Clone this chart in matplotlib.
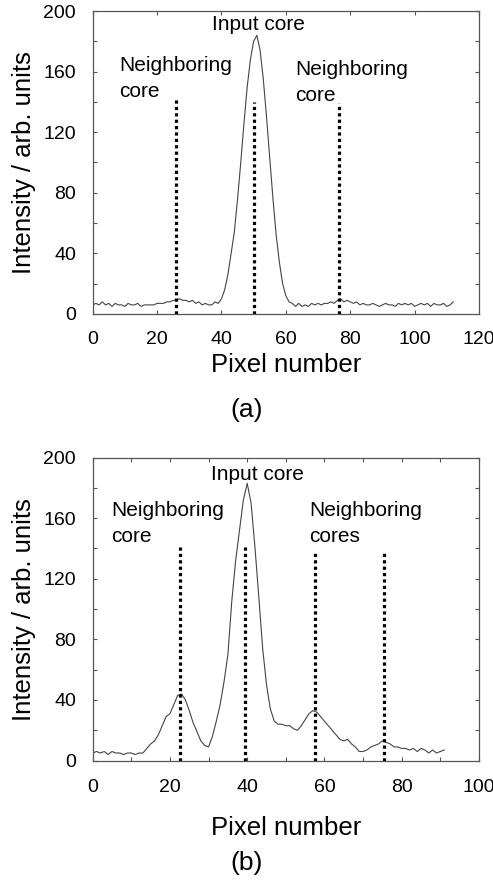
import matplotlib
matplotlib.use("Agg")
import matplotlib.pyplot as plt
import numpy as np

# panel (a): intensity profile, one value per pixel
profile_a = [
    6, 7, 6, 8, 6, 7, 5, 7, 6, 6, 5, 7, 6, 6, 7, 5, 6, 6, 6, 6,
    7, 7, 7, 8, 8, 9, 9, 10, 9, 9, 8, 9, 7, 8, 6, 7, 6, 6, 8, 7,
    10, 16, 26, 40, 54, 76, 100, 126, 150, 168, 180, 184, 174, 155, 130, 103, 76, 52, 34, 20,
    12, 8, 7, 5, 7, 5, 6, 5, 7, 6, 7, 6, 7, 7, 8, 7, 9, 10, 8, 9,
    8, 7, 8, 6, 7, 6, 6, 7, 6, 5, 6, 7, 6, 6, 5, 7, 6, 7, 6, 7,
    5, 6, 7, 6, 7, 5, 7, 6, 6, 7, 5, 6, 8,
]
cores_a = [26, 50, 76.5]
core_tops_a = [142, 140, 139.5]

# panel (b)
profile_b = [
    5, 6, 5, 6, 4, 6, 5, 5, 4, 5, 5, 4, 5, 5, 8, 11, 13, 17, 23, 29,
    31, 37, 43, 44, 40, 33, 25, 19, 13, 10, 9, 16, 26, 37, 52, 70, 105, 132, 152, 172,
    183, 170, 141, 108, 74, 50, 34, 26, 24, 24, 23, 23, 21, 20, 23, 27, 31, 33, 32, 29,
    26, 23, 20, 17, 14, 13, 14, 11, 9, 6, 6, 7, 9, 10, 11, 13, 12, 11, 9, 9,
    8, 8, 7, 8, 6, 8, 7, 5, 7, 5, 6, 7,
]
cores_b = [22.5, 39.5, 57.5, 75.5]
core_tops_b = [141, 141, 138, 137]

plt.rcParams.update({
    "font.family": ["Liberation Sans", "DejaVu Sans"],
    "xtick.direction": "in",
    "ytick.direction": "in",
    "xtick.top": True,
    "ytick.right": True,
    "xtick.major.size": 3,
    "ytick.major.size": 3,
    "xtick.labelsize": 14,
    "ytick.labelsize": 14,
    "axes.linewidth": 0.9,
    "axes.edgecolor": "#555555",
})

fig = plt.figure(figsize=(4.93, 8.80), dpi=100)
ax1 = fig.add_axes([0.188, 0.6432, 0.7836, 0.3443])
ax2 = fig.add_axes([0.188, 0.1357, 0.7836, 0.3443])


def draw(ax, profile, cores, tops, xmax, xstep, xpad):
    x = np.arange(len(profile))
    ax.plot(x, profile, color="#444444", lw=0.8)
    for c, t in zip(cores, tops):
        ax.plot([c, c], [0, t], color="black", lw=2.3, linestyle=(0, (1, 1)))
    ax.set_xlim(0, xmax)
    ax.set_ylim(0, 200)
    ax.set_xticks(np.arange(0, xmax + 1, xstep))
    ax.set_xticklabels([str(v) if v % 20 == 0 else "" for v in np.arange(0, xmax + 1, xstep)])
    ax.set_yticks(np.arange(0, 201, 20))
    ax.set_yticklabels([str(v) if v % 40 == 0 else "" for v in np.arange(0, 201, 20)])
    ax.tick_params(colors="#555555", labelcolor="black")
    ax.tick_params(axis="x", pad=xpad)
    ax.tick_params(axis="y", pad=12)
    ax.set_ylabel("Intensity / arb. units", fontsize=18.5, labelpad=5)


draw(ax1, profile_a, cores_a, core_tops_a, 120, 20, 12)
ax1.set_xlabel("Pixel number", fontsize=18.5, labelpad=3.5)
ax1.text(51.4, 191, "Input core", fontsize=15, ha="center", va="center")
ax1.text(8.3, 155.4, "Neighboring\ncore", fontsize=15, ha="left", va="center", linespacing=1.45)
ax1.text(62.9, 153, "Neighboring\ncore", fontsize=15, ha="left", va="center", linespacing=1.45)
fig.text(0.5, 1 - 410 / 880, "(a)", fontsize=19, ha="center", va="center")

draw(ax2, profile_b, cores_b, core_tops_b, 100, 10, 13)
ax2.set_xlabel("Pixel number", fontsize=18.5, labelpad=15)
ax2.text(42.6, 189, "Input core", fontsize=15, ha="center", va="center")
ax2.text(4.9, 156.4, "Neighboring\ncore", fontsize=15, ha="left", va="center", linespacing=1.45)
ax2.text(56.1, 156.4, "Neighboring\ncores", fontsize=15, ha="left", va="center", linespacing=1.45)
fig.text(0.5, 1 - 863 / 880, "(b)", fontsize=19, ha="center", va="center")

fig.savefig("out.png", dpi=100)
